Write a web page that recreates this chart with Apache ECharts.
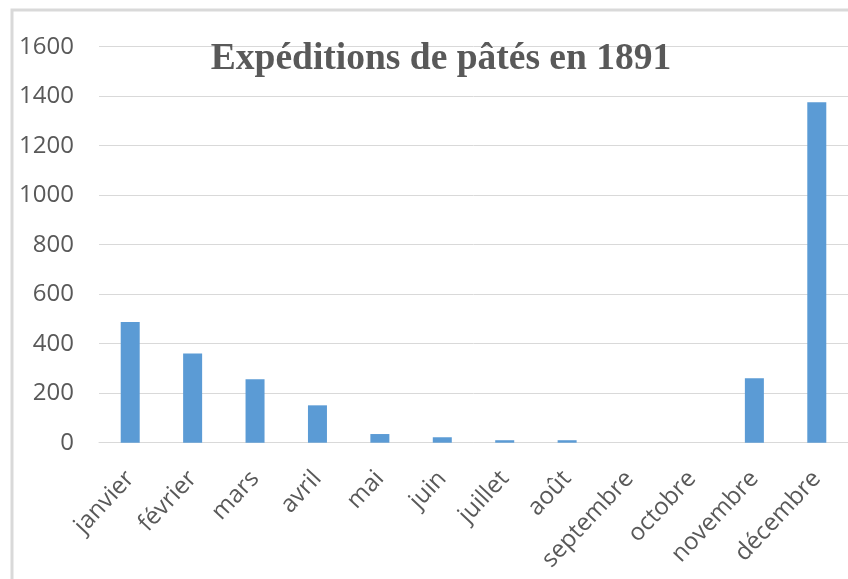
<!DOCTYPE html>
<html>
<head>
<meta charset="utf-8">
<script src="https://cdn.jsdelivr.net/npm/echarts@6/dist/echarts.min.js"></script>
<style>
  html, body { margin: 0; padding: 0; background: #fff; }
  #main { width: 848px; height: 579px; }
</style>
</head>
<body>
<div id="main"></div>
<script>
const months = ["janvier", "février", "mars", "avril", "mai", "juin",
  "juillet", "août", "septembre", "octobre", "novembre", "décembre"];
const shipments = [488, 360, 256, 151, 35, 22, 10, 10, 0, 0, 260, 1376];
const yTicks = { min: 0, max: 1600, interval: 200 };
const titleText = "Expéditions de pâtés en 1891";

const chart = echarts.init(document.getElementById("main"));

const labelFont = {
  fontFamily: "Open Sans",
  color: "#595959",
};

const options = {
  animation: false,
  title: {
    text: titleText,
    left: 436,
    top: 35,
    textAlign: "center",
    textStyle: {
      fontFamily: "Liberation Serif",
      fontWeight: "bold",
      fontSize: 37.5,
      color: "#595959",
    },
  },
  graphic: [
    {
      type: "rect",
      shape: { x: 12, y: 10, width: 900, height: 620 },
      style: { fill: "none", stroke: "#d9d9d9", lineWidth: 3 },
      silent: true,
    },
  ],
  grid: {
    left: 99,
    width: 750,
    top: 46.7,
    bottom: 136.3,
    containLabel: false,
  },
  xAxis: {
    type: "category",
    data: months,
    axisLine: { show: true, lineStyle: { color: "#d9d9d9", width: 1 } },
    axisTick: { show: false },
    axisLabel: {
      rotate: 47,
      interval: 0,
      margin: 32,
      fontSize: 24,
      ...labelFont,
    },
  },
  yAxis: {
    type: "value",
    min: yTicks.min,
    max: yTicks.max,
    interval: yTicks.interval,
    axisLine: { show: false },
    axisTick: { show: false },
    splitLine: { lineStyle: { color: "#d9d9d9", width: 1 } },
    axisLabel: {
      margin: 25,
      fontSize: 24,
      formatter: (v) => String(v),
      ...labelFont,
    },
  },
  series: [
    {
      name: "Expéditions",
      type: "bar",
      barWidth: 19,
      itemStyle: { color: "#5b9bd5" },
      data: shipments,
    },
  ],
};

chart.setOption(options);
</script>
</body>
</html>
